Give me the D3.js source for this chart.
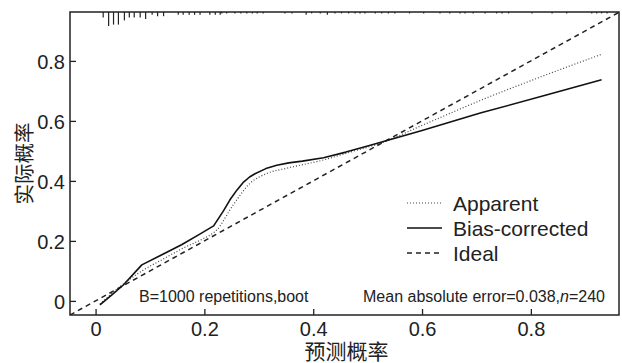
<!DOCTYPE html>
<html>
<head>
<meta charset="utf-8">
<script src="https://cdn.jsdelivr.net/npm/d3@7"></script>
<style>
  body { margin: 0; background: #fff; }
  text { font-family: "Liberation Sans", Arial, sans-serif; fill: #222; }
  .cjk { font-family: "Noto Sans CJK SC", sans-serif; }
</style>
</head>
<body>
<svg id="chart" width="622" height="363"></svg>
<script>
// calibration curves (predicted vs actual)
const apparentX = [0.008, 0.045, 0.088, 0.125, 0.161, 0.195, 0.223, 0.253, 0.284, 0.315, 0.351, 0.419, 0.47, 0.523, 0.6, 0.707, 0.82, 0.93]
const apparentY = [-0.01, 0.048, 0.103, 0.14, 0.176, 0.205, 0.237, 0.32, 0.392, 0.425, 0.442, 0.47, 0.497, 0.525, 0.585, 0.668, 0.748, 0.822]

const biasX = [0.008, 0.03, 0.051, 0.085, 0.12, 0.158, 0.19, 0.217, 0.235, 0.247, 0.26, 0.272, 0.283, 0.293, 0.313, 0.333, 0.355, 0.38, 0.419, 0.46, 0.505, 0.6, 0.707, 0.82, 0.93]
const biasY = [-0.013, 0.02, 0.053, 0.12, 0.152, 0.187, 0.221, 0.25, 0.3, 0.337, 0.37, 0.396, 0.413, 0.424, 0.441, 0.452, 0.46, 0.466, 0.477, 0.496, 0.519, 0.568, 0.626, 0.682, 0.737]

// distribution of predicted probabilities (rug at top)
const rugX = [0.014, 0.024, 0.033, 0.042, 0.053, 0.062, 0.071, 0.082, 0.092, 0.104, 0.114, 0.125,
  0.152, 0.161, 0.172, 0.182, 0.192, 0.21, 0.22, 0.229,
  0.232, 0.241, 0.256, 0.267, 0.278, 0.288, 0.297, 0.308, 0.348, 0.361, 0.387, 0.397, 0.413,
  0.426, 0.44, 0.452, 0.465, 0.477, 0.486, 0.495, 0.514, 0.526, 0.538, 0.55, 0.577,
  0.603, 0.633, 0.651, 0.67, 0.679, 0.694, 0.716, 0.737, 0.747, 0.759, 0.802, 0.839, 0.866,
  0.912, 0.921, 0.93, 0.94]
const rugCount = [4, 10, 9, 9, 6, 4, 4, 4, 5, 2, 3, 3,
  2, 2, 2, 2, 2, 2, 2, 2,
  1, 1, 1, 1, 1, 1, 1, 1, 1, 1, 2, 1, 1,
  2, 1, 1, 1, 1, 1, 1, 1, 1, 1, 1, 1,
  1, 1, 1, 1, 1, 1, 1, 1, 1, 1, 1, 1, 1,
  1, 1, 1, 1]

const xTicks = [0, 0.2, 0.4, 0.6, 0.8]
const yTicks = [0, 0.2, 0.4, 0.6, 0.8]
const legendLabels = ['Apparent', 'Bias-corrected', 'Ideal']

const WIDTH = 622
const HEIGHT = 363
const MARGINS = { top: 12, right: 3, bottom: 48, left: 70 }

const svg = d3.select('#chart')

const xScale = d3.scaleLinear().domain([-0.047, 0.962]).range([MARGINS.left, WIDTH - MARGINS.right])
const yScale = d3.scaleLinear().domain([-0.047, 0.963]).range([HEIGHT - MARGINS.bottom, MARGINS.top])
const rugScale = d3.scaleLinear().domain([0, 10]).range([0, 14])

const tickFmt = d => d === 0 ? '0' : d3.format('.1f')(d)

// axes, ticks pointing inward
const xAxis = d3.axisBottom(xScale).tickValues(xTicks).tickFormat(tickFmt).tickSizeInner(-6).tickSizeOuter(0).tickPadding(7)
const yAxis = d3.axisLeft(yScale).tickValues(yTicks).tickFormat(tickFmt).tickSizeInner(-6).tickSizeOuter(0).tickPadding(5)

const gx = svg.append('g')
  .attr('transform', 'translate(0,' + (HEIGHT - MARGINS.bottom) + ')')
  .call(xAxis)
gx.select('.domain').remove()
gx.selectAll('line').attr('stroke', '#222').attr('stroke-width', 1.3)
gx.selectAll('text').style('font-size', '20px').attr('fill', '#222')

const gy = svg.append('g')
  .attr('transform', 'translate(' + MARGINS.left + ',0)')
  .call(yAxis)
gy.select('.domain').remove()
gy.selectAll('line').attr('stroke', '#222').attr('stroke-width', 1.3)
gy.selectAll('text').style('font-size', '20px').attr('fill', '#222').attr('dy', '0.36em')

// clip for plot lines
svg.append('clipPath').attr('id', 'clip')
  .append('rect')
  .attr('x', MARGINS.left).attr('y', MARGINS.top)
  .attr('width', WIDTH - MARGINS.left - MARGINS.right)
  .attr('height', HEIGHT - MARGINS.top - MARGINS.bottom)

const plot = svg.append('g').attr('clip-path', 'url(#clip)')

// ideal line
const ideal = xScale.domain()
plot.append('line')
  .attr('x1', xScale(ideal[0])).attr('y1', yScale(ideal[0]))
  .attr('x2', xScale(ideal[1])).attr('y2', yScale(ideal[1]))
  .attr('stroke', '#222').attr('stroke-width', 1.5)
  .attr('stroke-dasharray', '5,4')

const smoothLine = d3.line()
  .x(d => xScale(d[0]))
  .y(d => yScale(d[1]))
  .curve(d3.curveMonotoneX)

const straightLine = d3.line()
  .x(d => xScale(d[0]))
  .y(d => yScale(d[1]))

plot.append('path')
  .attr('d', smoothLine(apparentX.map((x, i) => [x, apparentY[i]])))
  .attr('fill', 'none').attr('stroke', '#444').attr('stroke-width', 1.2)
  .attr('stroke-dasharray', '1,2')

plot.append('path')
  .attr('d', straightLine(biasX.map((x, i) => [x, biasY[i]])))
  .attr('fill', 'none').attr('stroke', '#111').attr('stroke-width', 1.6)
  .attr('stroke-linejoin', 'round')

// rug
plot.selectAll('.rug')
  .data(rugX)
  .enter().append('line')
  .attr('class', 'rug')
  .attr('x1', d => xScale(d)).attr('x2', d => xScale(d))
  .attr('y1', MARGINS.top)
  .attr('y2', (d, i) => MARGINS.top + rugScale(rugCount[i]))
  .attr('stroke', '#222').attr('stroke-width', 1.2)

// frame
svg.append('rect')
  .attr('x', MARGINS.left).attr('y', MARGINS.top)
  .attr('width', WIDTH - MARGINS.left - MARGINS.right)
  .attr('height', HEIGHT - MARGINS.top - MARGINS.bottom)
  .attr('fill', 'none').attr('stroke', '#222').attr('stroke-width', 1.5)

// legend
const legendStyles = [
  { dash: '1,2', width: 1.2, color: '#444' },
  { dash: null, width: 1.6, color: '#111' },
  { dash: '5,4', width: 1.5, color: '#222' }
]
const legend = svg.append('g').attr('transform', 'translate(407,203)')
legendLabels.forEach((label, i) => {
  const row = legend.append('g').attr('transform', 'translate(0,' + i * 25 + ')')
  row.append('line')
    .attr('x1', 0).attr('x2', 35).attr('y1', 0).attr('y2', 0)
    .attr('stroke', legendStyles[i].color)
    .attr('stroke-width', legendStyles[i].width)
    .attr('stroke-dasharray', legendStyles[i].dash)
  row.append('text')
    .attr('x', 46).attr('y', 0).attr('dy', '0.36em')
    .style('font-size', '21px')
    .text(label)
})

// annotations
svg.append('text')
  .attr('x', 139).attr('y', 302)
  .style('font-size', '16px')
  .text('B=1000 repetitions,boot')

const mae = svg.append('text')
  .attr('x', 605).attr('y', 302)
  .attr('text-anchor', 'end')
  .style('font-size', '16px')
mae.append('tspan').text('Mean absolute error=0.038,')
mae.append('tspan').style('font-style', 'italic').text('n')
mae.append('tspan').text('=240')

// axis titles
svg.append('text')
  .attr('class', 'cjk')
  .attr('x', (MARGINS.left + WIDTH - MARGINS.right) / 2 + 2)
  .attr('y', 358.5)
  .attr('text-anchor', 'middle')
  .style('font-size', '21px')
  .text('预测概率')

svg.append('text')
  .attr('class', 'cjk')
  .attr('transform', 'translate(32,' + (MARGINS.top + (HEIGHT - MARGINS.top - MARGINS.bottom) / 2) + ') rotate(-90)')
  .attr('text-anchor', 'middle')
  .style('font-size', '20.5px')
  .text('实际概率')
</script>
</body>
</html>
